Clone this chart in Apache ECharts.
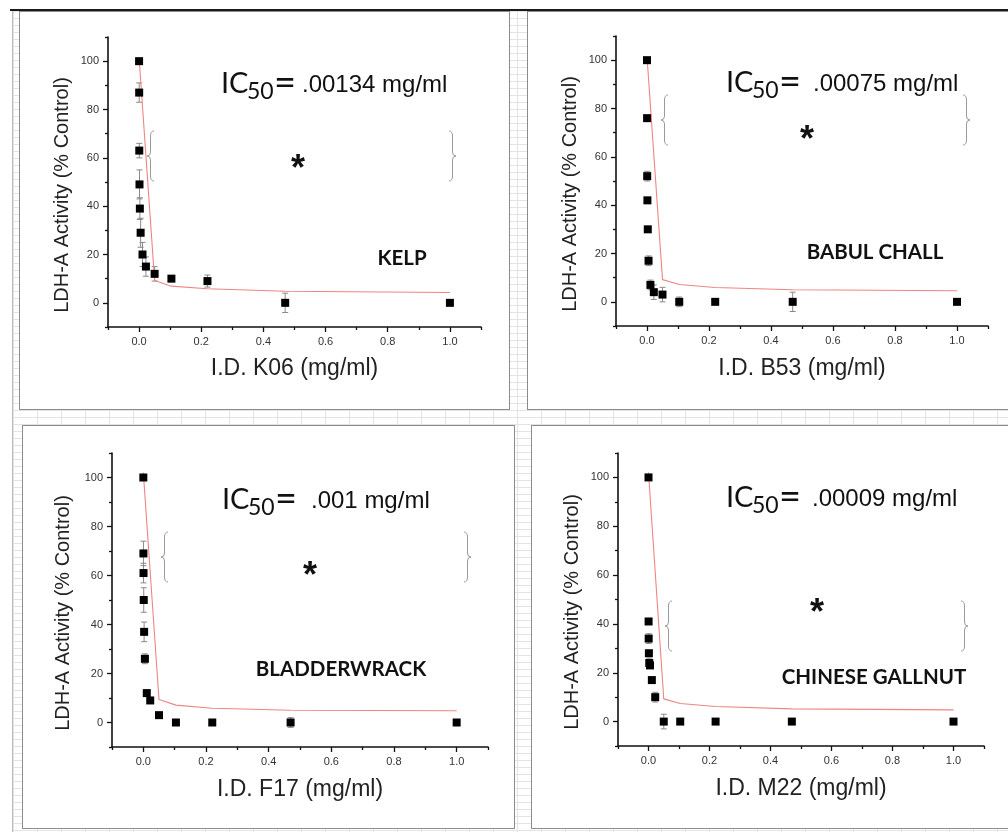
<!DOCTYPE html>
<html lang="en">
<head>
    <meta charset="UTF-8">
    <title>LDH-A inhibition</title>
    <style>
        body {
            margin: 0;
            width: 1008px;
            height: 832px;
            position: relative;
            overflow: hidden;
            background: #fff;
        }
        #sheet {
            position: absolute;
            left: 12px;
            top: 11px;
            right: 0;
            bottom: 0;
            border-left: 1px solid #bbb;
            background-image: linear-gradient(#e3e3e3 1px, transparent 1px),
                              linear-gradient(90deg, #e3e3e3 1px, transparent 1px);
            background-size: 24px 7px;
        }
        #topline {
            position: absolute;
            left: 10px;
            top: 9px;
            width: 998px;
            height: 2px;
            background: #1a1a1a;
        }
        .panel {
            position: absolute;
            background: #fff;
            border: 1px solid #8c8c8c;
            box-sizing: border-box;
        }
        #p1 { left: 19px; top: 11px; width: 491px; height: 399px; }
        #p2 { left: 527px; top: 11px; width: 500px; height: 399px; }
        #p3 { left: 22px; top: 425px; width: 493px; height: 404px; }
        #p4 { left: 531px; top: 425px; width: 500px; height: 404px; }
        #chart {
            position: absolute;
            left: 0;
            top: 0;
            width: 1008px;
            height: 832px;
        }
    </style>
</head>
<body>
<div id="sheet"></div>
<div id="topline"></div>
<div class="panel" id="p1"></div>
<div class="panel" id="p2"></div>
<div class="panel" id="p3"></div>
<div class="panel" id="p4"></div>
<div id="chart"></div>

<script src="https://cdn.jsdelivr.net/npm/echarts@6/dist/echarts.min.js"></script>
<script>
    // dose series (mg/ml), same for every extract
    var doses = [0, 0.0003, 0.0006, 0.0013, 0.0025, 0.005, 0.011, 0.022, 0.05, 0.104, 0.22, 0.47, 1.0];

    var kelpY = [100, 87, 63, 49, 39, 29, 20, 15, 12, 10, 9, 0, 0];
    var kelpErr = [0, 4, 3, 6, 4.5, 6, 5, 4, 3, 1, 2.5, 4, 0];
    var babulY = [100, 76, 52, 42, 30, 17, 7, 4, 3, 0, 0, 0, 0];
    var babulErr = [0, 0, 2, 1, 1, 2, 2, 3, 3, 2, 0, 4, 0];
    var bladderY = [100, 69, 61, 50, 37, 26, 12, 9, 3, 0, 0, 0, 0];
    var bladderErr = [0, 5, 4, 5, 4, 2, 1, 0, 0, 0, 0, 2, 0];
    var gallnutY = [100, 41, 34, 28, 24, 23, 17, 10, 0, 0, 0, 0, 0];
    var gallnutErr = [0, 0, 2, 0, 2, 1, 0, 2, 3, 0, 0, 0, 0];

    // fitted curve (red)
    var fitX = [0, 0.05, 0.104, 0.22, 0.47, 1.0];
    var kelpFit = [101.5, 9.2, 6.9, 5.8, 4.8, 4.3];
    var babulFit = [101.5, 9.2, 7.2, 5.9, 5.0, 4.6];
    var bladderFit = [102, 9.4, 7.1, 5.8, 5.0, 4.8];
    var gallnutFit = [102, 9.3, 7.4, 6.2, 5.2, 4.8];

    var xTicks = [0, 0.2, 0.4, 0.6, 0.8, 1.0];
    var xMinorTicks = [-0.1, 0.1, 0.3, 0.5, 0.7, 0.9, 1.1];
    var yTicks = [0, 20, 40, 60, 80, 100];
    var yMinorTicks = [-10, 10, 30, 50, 70, 90, 110];

    var extracts = ['KELP', 'BABUL CHALL', 'BLADDERWRACK', 'CHINESE GALLNUT'];
    var codes = ['K06', 'B53', 'F17', 'M22'];
    var ic50 = ['.00134', '.00075', '.001', '.00009'];
    var yTitle = 'LDH-A Activity (% Control)';

    var panelY = [kelpY, babulY, bladderY, gallnutY];
    var panelErr = [kelpErr, babulErr, bladderErr, gallnutErr];
    var panelFit = [kelpFit, babulFit, bladderFit, gallnutFit];

    // layout of each panel (pixels)
    var layout = [
        {grid: [108, 37, 373, 290], xGap: 30, yName: [62, 195], ic: [222, 93], num: 302, brace: [147, 449, 131], star: [298, 162], label: [402, 258]},
        {grid: [616, 36, 372, 290], xGap: 31, yName: [570, 194], ic: [727, 92], num: 813, brace: [661, 963, 95], star: [807, 133], label: [875, 252]},
        {grid: [112, 453, 376, 294], xGap: 31, yName: [63, 613], ic: [223, 509], num: 311, brace: [161, 464, 532], star: [310, 569], label: [341, 669]},
        {grid: [618, 453, 366, 293], xGap: 31, yName: [572, 612], ic: [727, 507], num: 812, brace: [665, 961, 601], star: [817, 606], label: [874, 677]}
    ];

    var axisFont = 'Liberation Sans, Arial, sans-serif';
    var grids = [], xAxes = [], yAxes = [], series = [], graphics = [];

    // axis that only draws ticks at the given values
    function tickAxis(i, pos, min, max, values, len) {
        return {
            gridIndex: i, type: 'value', position: pos, min: min, max: max,
            axisLine: {show: false, onZero: false},
            axisTick: {show: true, length: len, customValues: values, lineStyle: {color: '#111', width: 1.3}},
            axisLabel: {show: false},
            splitLine: {show: false}
        };
    }

    function errorBars(params, api) {
        var x = api.value(0), y = api.value(1), e = api.value(2);
        var lo = api.coord([x, y - e]);
        var hi = api.coord([x, y + e]);
        var st = {stroke: '#8a8a8a', lineWidth: 1};
        return {
            type: 'group',
            children: [
                {type: 'line', shape: {x1: lo[0], y1: lo[1], x2: hi[0], y2: hi[1]}, style: st},
                {type: 'line', shape: {x1: lo[0] - 3, y1: lo[1], x2: lo[0] + 3, y2: lo[1]}, style: st},
                {type: 'line', shape: {x1: hi[0] - 3, y1: hi[1], x2: hi[0] + 3, y2: hi[1]}, style: st}
            ]
        };
    }

    // curly brace made of curves and lines; dir 1 = '{', -1 = '}'
    function brace(x, y, h, dir) {
        var w = 7 * dir, tip = dir > 0 ? x : x + 7, m = tip + w / 2, e = tip + w;
        var st = {stroke: '#9a9a9a', lineWidth: 1, fill: null};
        var c = y + h / 2;
        return {
            type: 'group',
            children: [
                {type: 'bezierCurve', shape: {x1: e, y1: y, cpx1: m, cpy1: y, x2: m, y2: y + 5}, style: st},
                {type: 'line', shape: {x1: m, y1: y + 5, x2: m, y2: c - 4}, style: st},
                {type: 'bezierCurve', shape: {x1: m, y1: c - 4, cpx1: m, cpy1: c, x2: tip, y2: c}, style: st},
                {type: 'bezierCurve', shape: {x1: tip, y1: c, cpx1: m, cpy1: c, x2: m, y2: c + 4}, style: st},
                {type: 'line', shape: {x1: m, y1: c + 4, x2: m, y2: y + h - 5}, style: st},
                {type: 'bezierCurve', shape: {x1: m, y1: y + h - 5, cpx1: m, cpy1: y + h, x2: e, y2: y + h}, style: st}
            ]
        };
    }

    for (var i = 0; i < 4; i++) {
        var L = layout[i];
        grids.push({left: L.grid[0], top: L.grid[1], width: L.grid[2], height: L.grid[3]});

        // x axis: line + labels + name, then major and minor tick overlays
        xAxes.push({
            gridIndex: i, type: 'value', position: 'bottom', min: -0.1, max: 1.1,
            name: 'I.D. ' + codes[i] + ' (mg/ml)', nameLocation: 'middle', nameGap: L.xGap,
            nameTextStyle: {fontFamily: axisFont, fontSize: 23, color: '#222'},
            axisLine: {show: true, onZero: false, lineStyle: {color: '#111', width: 1.6}},
            axisTick: {show: false},
            axisLabel: {
                customValues: xTicks, margin: 9, fontFamily: axisFont, fontSize: 11, color: '#333',
                formatter: function (v) { return v.toFixed(1); }
            },
            splitLine: {show: false}
        });
        xAxes.push(tickAxis(i, 'bottom', -0.1, 1.1, xTicks, 5));
        xAxes.push(tickAxis(i, 'bottom', -0.1, 1.1, xMinorTicks, 3));

        yAxes.push({
            gridIndex: i, type: 'value', position: 'left', min: -10, max: 110,
            axisLine: {show: true, onZero: false, lineStyle: {color: '#111', width: 1.6}},
            axisTick: {show: false},
            axisLabel: {customValues: yTicks, margin: 9, fontFamily: axisFont, fontSize: 11, color: '#333'},
            splitLine: {show: false}
        });
        yAxes.push(tickAxis(i, 'left', -10, 110, yTicks, 5));
        yAxes.push(tickAxis(i, 'left', -10, 110, yMinorTicks, 3));

        var pts = [], errs = [], fit = [];
        for (var k = 0; k < doses.length; k++) {
            pts.push([doses[k], panelY[i][k]]);
            if (panelErr[i][k] > 0) errs.push([doses[k], panelY[i][k], panelErr[i][k]]);
        }
        for (k = 0; k < fitX.length; k++) fit.push([fitX[k], panelFit[i][k]]);

        var ax = 3 * i;
        series.push({
            type: 'custom', xAxisIndex: ax, yAxisIndex: ax, z: 1,
            renderItem: errorBars, encode: {x: 0, y: 1}, data: errs, silent: true
        });
        series.push({
            type: 'line', xAxisIndex: ax, yAxisIndex: ax, z: 2, data: fit,
            showSymbol: false, lineStyle: {color: '#f08484', width: 1.1}, silent: true
        });
        series.push({
            type: 'scatter', xAxisIndex: ax, yAxisIndex: ax, z: 3, data: pts,
            symbol: 'rect', symbolSize: 8, itemStyle: {color: '#000', opacity: 1}, silent: true
        });

        // y axis title
        graphics.push({
            type: 'text', x: L.yName[0], y: L.yName[1], rotation: Math.PI / 2,
            style: {text: yTitle, font: '20px "Liberation Sans"', fill: '#222', align: 'center', verticalAlign: 'middle'}
        });

        // IC50 annotation
        var bx = L.ic[0], by = L.ic[1];
        graphics.push({type: 'text', x: bx - 1, y: by - 9, style: {text: 'IC', font: '29px Lato', fill: '#111', verticalAlign: 'middle'}});
        graphics.push({type: 'text', x: bx + 25, y: by - 1, style: {text: '50', font: '23px Lato', fill: '#111', verticalAlign: 'middle'}});
        graphics.push({type: 'text', x: bx + 52, y: by - 9, style: {text: '=', font: '38px Lato', fill: '#111', verticalAlign: 'middle'}});
        graphics.push({type: 'text', x: L.num, y: by - 8, style: {text: ic50[i] + ' mg/ml', font: '24px "Liberation Sans"', fill: '#111', verticalAlign: 'middle'}});

        // braces and star
        graphics.push(brace(L.brace[0], L.brace[2], 50, 1));
        graphics.push(brace(L.brace[1], L.brace[2], 50, -1));
        graphics.push({type: 'text', x: L.star[0], y: L.star[1] + 8, style: {text: '*', font: 'bold 36px "Liberation Sans"', fill: '#111', align: 'center', verticalAlign: 'middle'}});

        // extract name
        graphics.push({type: 'text', x: L.label[0], y: L.label[1], style: {text: extracts[i], font: 'bold 20.5px Lato', fill: '#111', align: 'center', verticalAlign: 'middle'}});
    }

    var chart = echarts.init(document.getElementById('chart'));
    chart.setOption({
        animation: false,
        backgroundColor: 'transparent',
        grid: grids,
        xAxis: xAxes,
        yAxis: yAxes,
        series: series,
        graphic: graphics
    });
</script>
</body>
</html>
